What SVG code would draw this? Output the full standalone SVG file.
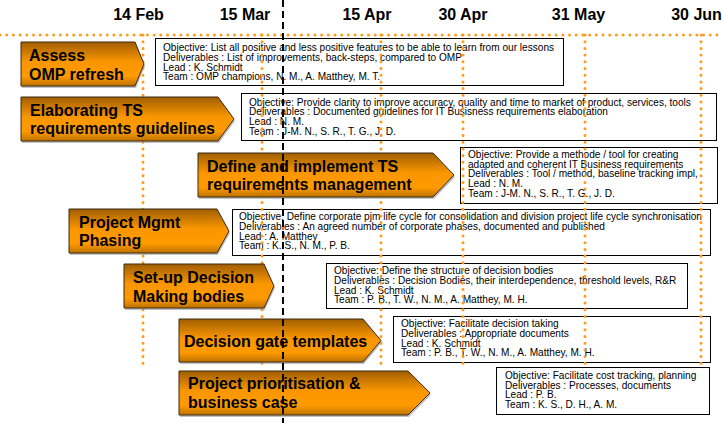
<svg xmlns="http://www.w3.org/2000/svg" width="722" height="423" viewBox="0 0 722 423">
<defs>
<linearGradient id="og" x1="0" y1="0" x2="0" y2="1">
<stop offset="0" stop-color="#a05e00"/>
<stop offset="0.45" stop-color="#fa9600"/>
<stop offset="0.78" stop-color="#ff9a00"/>
<stop offset="1" stop-color="#bd7200"/>
</linearGradient>
</defs>
<style>
.date{font-family:"Liberation Sans",Arial,sans-serif;font-weight:bold;font-size:16px;fill:#000;text-anchor:middle}
.lbl{font-family:"Liberation Sans",Arial,sans-serif;font-weight:bold;font-size:16px;fill:#000}
.info{font-family:"Liberation Sans",Arial,sans-serif;font-size:10.1px;fill:#000}
.box{fill:#fff;stroke:#000;stroke-width:1}
.arr{fill:url(#og);stroke:#3d2a10;stroke-width:1}
.sh{fill:#9a9a9a;opacity:0.6}
.dot{stroke:#ff9a1a;stroke-width:3;stroke-linecap:round;stroke-dasharray:0 6.7;fill:none}
.dash{stroke:#000;stroke-width:2;stroke-dasharray:7 4;fill:none}
</style>
<rect width="722" height="423" fill="#fff"/>
<g id="dates">
<text class="date" x="138.5" y="20">14 Feb</text>
<text class="date" x="245" y="20">15 Mar</text>
<text class="date" x="367" y="20">15 Apr</text>
<text class="date" x="463" y="20">30 Apr</text>
<text class="date" x="578.5" y="20">31 May</text>
<text class="date" x="696.5" y="20">30 Jun</text>
</g>
<g id="box-assess">
<rect class="box" x="155.5" y="38.5" width="408" height="47"/>
<text class="info" x="163" y="50.5">Objective: List all positive and less positive features to be able to learn from our lessons</text>
<text class="info" x="163" y="60.5">Deliverables : List of improvements, back-steps, compared to OMP</text>
<text class="info" x="163" y="70.5">Lead : K. Schmidt</text>
<text class="info" x="163" y="80.3">Team : OMP champions, N. M., A. Matthey, M. T.</text>
</g>
<g id="box-elaborating">
<rect class="box" x="241.5" y="93.5" width="475" height="47"/>
<text class="info" x="249" y="105.5">Objective: Provide clarity to improve accuracy, quality and time to market of product, services, tools</text>
<text class="info" x="249" y="115.2">Deliverables : Documented guidelines for IT Busisness requirements elaboration</text>
<text class="info" x="249" y="124.9">Lead : N. M.</text>
<text class="info" x="249" y="134.6">Team : J-M. N., S. R., T. G., J. D.</text>
</g>
<g id="box-define">
<rect class="box" x="460.5" y="147.5" width="257" height="56"/>
<text class="info" x="468" y="157.7">Objective: Provide a methode / tool for creating</text>
<text class="info" x="468" y="167.5">adapted and coherent IT Business requirements</text>
<text class="info" x="468" y="177.3">Deliverables : Tool / method, baseline tracking impl,</text>
<text class="info" x="468" y="187.1">Lead : N. M.</text>
<text class="info" x="468" y="196.9">Team : J-M. N., S. R., T. G., J. D.</text>
</g>
<g id="box-phasing">
<rect class="box" x="232.5" y="209.5" width="478" height="46"/>
<text class="info" x="239" y="220">Objective: Define corporate pjm life cycle for consolidation and division project life cycle synchronisation</text>
<text class="info" x="239" y="229.8">Deliverables : An agreed number of corporate phases, documented and published</text>
<text class="info" x="239" y="239.6">Lead : A. Matthey</text>
<text class="info" x="239" y="249.4">Team : K. S., N. M., P. B.</text>
</g>
<g id="box-setup">
<rect class="box" x="326.5" y="263.5" width="361" height="45"/>
<text class="info" x="334" y="274">Objective: Define the structure of decision bodies</text>
<text class="info" x="334" y="283.8">Deliverables : Decision Bodies, their interdependence, threshold levels, R&amp;R</text>
<text class="info" x="334" y="293.6">Lead : K. Schmidt</text>
<text class="info" x="334" y="303.2">Team : P. B., T. W., N. M., A. Matthey, M. H.</text>
</g>
<g id="box-gate">
<rect class="box" x="393.5" y="316.5" width="317" height="46"/>
<text class="info" x="401" y="327">Objective: Facilitate decision taking</text>
<text class="info" x="401" y="336.8">Deliverables : Appropriate documents</text>
<text class="info" x="401" y="346.6">Lead : K. Schmidt</text>
<text class="info" x="401" y="356.4">Team : P. B., T. W., N. M., A. Matthey, M. H.</text>
</g>
<g id="box-prio">
<rect class="box" x="496.5" y="367.5" width="213" height="47"/>
<text class="info" x="505" y="378.7">Objective: Facilitate cost tracking, planning</text>
<text class="info" x="505" y="388.5">Deliverables : Processes, documents</text>
<text class="info" x="505" y="398.3">Lead : P. B.</text>
<text class="info" x="505" y="408.1">Team : K. S., D. H., A. M.</text>
</g>
<g id="connectors">
<line class="dot" x1="0" y1="35" x2="722" y2="35"/>
<line class="dot" x1="143" y1="35" x2="143" y2="368"/>
<line class="dot" x1="262" y1="35" x2="262" y2="368"/>
<line class="dot" x1="381" y1="35" x2="381" y2="368"/>
<line class="dot" x1="463" y1="35" x2="463" y2="368"/>
<line class="dot" x1="585" y1="35" x2="585" y2="368"/>
<line class="dot" x1="701" y1="35" x2="701" y2="368"/>
</g>
<g id="task-assess">
<polygon class="sh" points="22,44 136,44 145,66 136,88 22,88"/>
<polygon class="arr" points="21,42 135,42 144,64 135,86 21,86"/>
<text class="lbl" x="29" y="61">Assess</text>
<text class="lbl" x="29" y="80">OMP refresh</text>
</g>
<g id="task-elaborating">
<polygon class="sh" points="22,99 219,99 235,121 219,143 22,143"/>
<polygon class="arr" points="21,97 218,97 234,119 218,141 21,141"/>
<text class="lbl" x="30" y="115.5">Elaborating TS</text>
<text class="lbl" x="30" y="133.5">requirements guidelines</text>
</g>
<g id="task-define">
<polygon class="sh" points="199,155 434,155 455,177 434,199 199,199"/>
<polygon class="arr" points="198,153 433,153 454,175 433,197 198,197"/>
<text class="lbl" x="207" y="171.5">Define and implement TS</text>
<text class="lbl" x="207" y="189.5">requirements management</text>
</g>
<g id="task-phasing">
<polygon class="sh" points="70,211 218,211 230,233 218,255 70,255"/>
<polygon class="arr" points="69,209 217,209 229,231 217,253 69,253"/>
<text class="lbl" x="79" y="227.5">Project Mgmt</text>
<text class="lbl" x="79" y="246">Phasing</text>
</g>
<g id="task-setup">
<polygon class="sh" points="125,266 265,266 275,288 265,310 125,310"/>
<polygon class="arr" points="124,264 264,264 274,286 264,308 124,308"/>
<text class="lbl" x="133" y="283">Set-up Decision</text>
<text class="lbl" x="133" y="301.5">Making bodies</text>
</g>
<g id="task-gate">
<polygon class="sh" points="180,321 364,321 382,342.5 364,364 180,364"/>
<polygon class="arr" points="179,319 363,319 381,340.5 363,362 179,362"/>
<text class="lbl" x="184" y="346.5">Decision gate templates</text>
</g>
<g id="task-prio">
<polygon class="sh" points="180,373 409,373 431,395 409,417 180,417"/>
<polygon class="arr" points="179,371 408,371 430,393 408,415 179,415"/>
<text class="lbl" x="188" y="389">Project prioritisation &amp;</text>
<text class="lbl" x="188" y="408">business case</text>
</g>
<g id="today">
<line class="dash" x1="283" y1="0" x2="283" y2="423"/>
</g>
</svg>
